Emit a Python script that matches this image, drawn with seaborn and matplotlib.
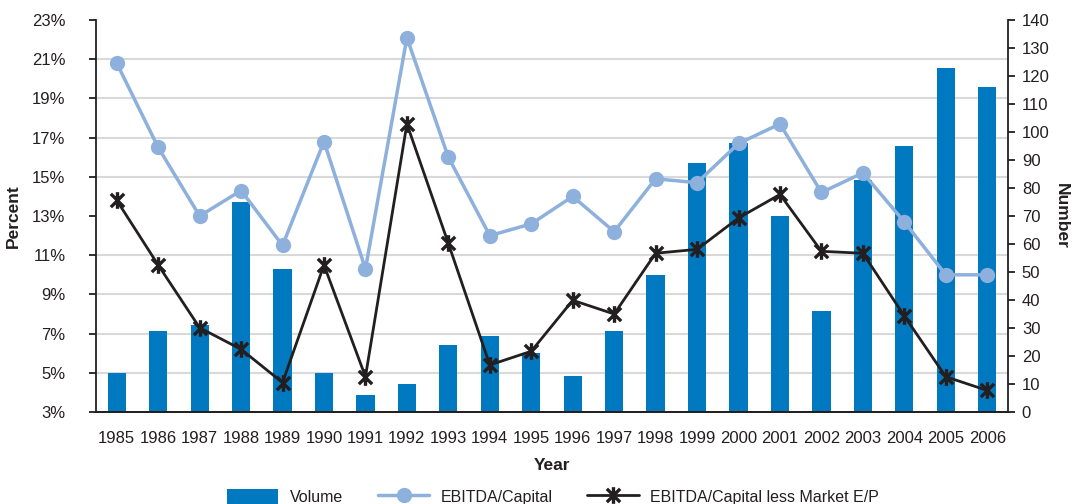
import numpy as np
import pandas as pd
import matplotlib
matplotlib.use("Agg")
import matplotlib.pyplot as plt
from matplotlib.path import Path
from matplotlib.patches import Patch
from matplotlib.lines import Line2D
from matplotlib.ticker import FixedLocator, FuncFormatter, MultipleLocator
import seaborn as sns

# Data
years = list(range(1985, 2007))
volume = [14, 29, 31, 75, 51, 14, 6, 10, 24, 27, 21, 13, 29, 49,
          89, 96, 70, 36, 83, 95, 123, 116]
ebitda_capital = [20.8, 16.5, 13.0, 14.3, 11.5, 16.8, 10.3, 22.1, 16.0, 12.0, 12.6,
                  14.0, 12.2, 14.9, 14.7, 16.7, 17.7, 14.2, 15.2, 12.7, 10.0, 10.0]
ebitda_less_ep = [13.8, 10.5, 7.3, 6.2, 4.5, 10.5, 4.8, 17.7, 11.6, 5.4, 6.1,
                  8.7, 8.0, 11.1, 11.3, 12.9, 14.1, 11.2, 11.1, 7.9, 4.8, 4.1]
pct_ticks = list(range(3, 24, 2))

df = pd.DataFrame({
    "Year": [str(y) for y in years],
    "pos": np.arange(len(years)),
    "Volume": volume,
    "EBITDA/Capital": ebitda_capital,
    "EBITDA/Capital less Market E/P": ebitda_less_ep,
})

sns.set_theme(style="white")
plt.rcParams["font.family"] = ["Liberation Sans", "DejaVu Sans"]

BAR = "#0079c1"
LIGHT = "#8db0dc"
DARK = "#231f20"
GRID = "#d9d9d9"

fig = plt.figure(figsize=(10.8, 5.04), dpi=100)
ax = fig.add_axes([0.0889, 0.1825, 0.8444, 0.7778])
ax2 = ax.twinx()

# bars on the right-hand (Number) axis, kept beneath the percent lines
ax.set_zorder(2)
ax.patch.set_visible(False)
ax2.set_zorder(1)

sns.barplot(data=df, x="pos", y="Volume", ax=ax2, color=BAR, width=0.44,
            saturation=1, edgecolor="none", native_scale=True)

# asterisk marker: an X crossed by a vertical stroke
star = Path([(-1, -1), (1, 1), (-1, 1), (1, -1), (0, -1.25), (0, 1.25)],
            [Path.MOVETO, Path.LINETO, Path.MOVETO, Path.LINETO, Path.MOVETO, Path.LINETO])

sns.lineplot(data=df, x="pos", y="EBITDA/Capital", ax=ax, color=LIGHT, lw=2.5,
             marker="o", markersize=11, markeredgewidth=0, markerfacecolor=LIGHT)
sns.lineplot(data=df, x="pos", y="EBITDA/Capital less Market E/P", ax=ax, color=DARK,
             lw=2, marker=star, markersize=12, markeredgewidth=2.4,
             markeredgecolor=DARK, markerfacecolor="none")

n = len(years)
for a in (ax, ax2):
    a.set_xlim(-0.5, n - 0.5)

ax.set_ylim(3, 23)
ax.yaxis.set_major_locator(FixedLocator(pct_ticks))
ax.yaxis.set_major_formatter(FuncFormatter(lambda v, p: f"{v:.0f}%"))
ax2.set_ylim(0, 140)
ax2.yaxis.set_major_locator(MultipleLocator(10))

# horizontal gridlines at each percent tick, drawn behind the bars
ax2.yaxis.set_minor_locator(FixedLocator(np.linspace(0, 140, len(pct_ticks))))
ax2.grid(which="minor", axis="y", color=GRID, lw=1.5)
ax2.grid(which="major", visible=False)
ax2.set_axisbelow(True)
ax2.tick_params(axis="y", which="minor", length=0)

ax.set_xticks(np.arange(n))
ax.set_xticklabels([str(y) for y in years])
ax.xaxis.set_minor_locator(FixedLocator(np.arange(-0.5, n, 1.0)))
ax.tick_params(axis="x", which="major", length=0, pad=14, labelsize=12, colors=DARK)
ax.tick_params(axis="x", which="minor", length=6, width=1.3, color=DARK, direction="out")
ax2.tick_params(axis="x", which="both", length=0, labelbottom=False)
ax.tick_params(axis="y", length=5, width=1.3, color=DARK, direction="out", pad=17,
               labelsize=12, labelcolor=DARK)
ax2.tick_params(axis="y", which="major", length=5, width=1.3, color=DARK, direction="out",
                pad=5, labelsize=12, labelcolor=DARK)

for a in (ax, ax2):
    a.spines["top"].set_visible(False)
    for s in ("left", "right", "bottom"):
        a.spines[s].set_color(DARK)
        a.spines[s].set_linewidth(1.3)
ax.spines["right"].set_visible(False)
ax2.spines["left"].set_visible(False)

ax.set_xlabel("Year", fontsize=12.5, fontweight="bold", color=DARK, labelpad=8)
ax.set_ylabel("Percent", fontsize=12.5, fontweight="bold", color=DARK, labelpad=6)
ax2.set_ylabel("Number", fontsize=12.5, fontweight="bold", color=DARK, rotation=270,
               labelpad=18)
ax.yaxis.set_label_coords(-0.082, 0.5)
ax2.yaxis.set_label_coords(1.067, 0.5)

handles = [
    Patch(facecolor=BAR, edgecolor="none"),
    Line2D([], [], color=LIGHT, lw=2.5, marker="o", markersize=11, markeredgewidth=0),
    Line2D([], [], color=DARK, lw=2, marker=star, markersize=12, markeredgewidth=2.4,
           markerfacecolor="none"),
]
labels = ["Volume", "EBITDA/Capital", "EBITDA/Capital less Market E/P"]
fig.legend(handles, labels, loc="center", bbox_to_anchor=(0.512, 0.014), ncol=3,
           frameon=False, fontsize=11.5, handlelength=3.2, handleheight=1.1,
           columnspacing=2.2, handletextpad=0.7, labelcolor=DARK)

fig.savefig("out.png", dpi=100)
